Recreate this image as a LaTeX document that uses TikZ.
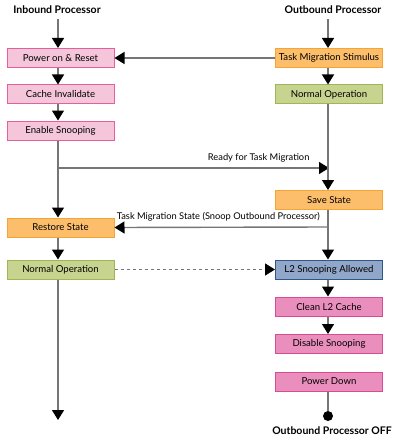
\documentclass[tikz,border=0pt]{standalone}
\usepackage{fontspec}
\setmainfont{Lato}
\usetikzlibrary{arrows.meta}

\definecolor{pinklt}{HTML}{F5C6DA}
\definecolor{pinkln}{HTML}{E3609D}
\definecolor{pinkdk}{HTML}{EA8FBD}
\definecolor{pinkdkln}{HTML}{D84C92}
\definecolor{orangefill}{HTML}{FDBE6C}
\definecolor{orangeln}{HTML}{F6A533}
\definecolor{greenfill}{HTML}{C7D48F}
\definecolor{greenln}{HTML}{9DB852}
\definecolor{bluefill}{HTML}{91A7C9}
\definecolor{blueln}{HTML}{2F5689}
\definecolor{linegray}{HTML}{767676}

\begin{document}
\begin{tikzpicture}[
    x=1pt, y=-1pt,
    box/.style={rectangle, draw, line width=1pt, minimum width=107pt, minimum height=19pt, inner sep=0pt, align=center, font=\fontsize{9.6}{11}\selectfont},
    title/.style={font=\bfseries\fontsize{10.5}{12}\selectfont},
    lbl/.style={font=\fontsize{9.3}{11}\selectfont},
    arrow/.style={draw=linegray, line width=1.4pt, -{Triangle[width=12pt,length=10pt,color=black]}},
    line/.style={draw=linegray, line width=1.4pt}
]
    \useasboundingbox (0,0) rectangle (400,441);

    % Titles
    \node[title] (inb) at (57,10) {Inbound Processor};
    \node[title] (outb) at (333,10) {Outbound Processor};

    % Inbound column
    \node[box, fill=pinklt, draw=pinkln] (power) at (60.5,58) {Power on \& Reset};
    \node[box, fill=pinklt, draw=pinkln] (cache) at (60.5,94.5) {Cache Invalidate};
    \node[box, fill=pinklt, draw=pinkln] (snoop) at (60.5,130.5) {Enable Snooping};
    \node[box, fill=orangefill, draw=orangeln] (restore) at (60.5,227.5) {Restore State};
    \node[box, fill=greenfill, draw=greenln] (normin) at (60.5,269.5) {Normal Operation};
    \coordinate (inend) at (58,420);

    % Outbound column
    \node[box, fill=orangefill, draw=orangeln] (stim) at (329,58) {Task Migration Stimulus};
    \node[box, fill=greenfill, draw=greenln] (normout) at (329,94.5) {Normal Operation};
    \node[box, fill=orangefill, draw=orangeln] (save) at (329,200) {Save State};
    \node[box, fill=bluefill, draw=blueln] (l2) at (329,269.5) {L2 Snooping Allowed};
    \node[box, fill=pinkdk, draw=pinkdkln] (clean) at (329,306.5) {Clean L2 Cache};
    \node[box, fill=pinkdk, draw=pinkdkln] (disable) at (329,344) {Disable Snooping};
    \node[box, fill=pinkdk, draw=pinkdkln] (pdown) at (329,381.5) {Power Down};
    \node[circle, fill=black, inner sep=0pt, minimum size=10pt] (off) at (328,416) {};
    \node[title] (offl) at (332,431) {Outbound Processor OFF};

    % Branch points
    \coordinate (ready) at (58,168);
    \coordinate (migr) at (328,227);

    % Arrows
    \draw[arrow] (inb.south -| power.north) ++(-2.5,2) -- ([xshift=-2.5pt]power.north);
    \draw[arrow] ([xshift=-2.5pt]power.south) -- ([xshift=-2.5pt]cache.north);
    \draw[arrow] ([xshift=-2.5pt]cache.south) -- ([xshift=-2.5pt]snoop.north);
    \draw[arrow] ([xshift=-2.5pt]snoop.south) -- ([xshift=-2.5pt]restore.north);
    \draw[arrow] (ready) -- (normout.south |- ready) node[lbl, pos=0.95, above left=2pt] {Ready for Task Migration};
    \draw[arrow] ([xshift=-2.5pt]restore.south) -- ([xshift=-2.5pt]normin.north);
    \draw[arrow] ([xshift=-2.5pt]normin.south) -- (inend);

    \draw[arrow] (outb.south -| stim.north) ++(-1,2) -- ([xshift=-1pt]stim.north);
    \draw[arrow] (stim.west) -- (power.east);
    \draw[arrow] ([xshift=-1pt]stim.south) -- ([xshift=-1pt]normout.north);
    \draw[arrow] ([xshift=-1pt]normout.south) -- ([xshift=-1pt]save.north);
    \draw[arrow] ([xshift=-1pt]save.south) -- ([xshift=-1pt]l2.north);
    \draw[arrow] (migr) -- (restore.east) node[lbl, pos=0.01, above left=2pt] {Task Migration State (Snoop Outbound Processor)};
    \draw[arrow, dashed, dash pattern=on 3pt off 3pt] (normin.east) -- (l2.west);
    \draw[arrow] ([xshift=-1pt]l2.south) -- ([xshift=-1pt]clean.north);
    \draw[arrow] ([xshift=-1pt]clean.south) -- ([xshift=-1pt]disable.north);
    \draw[line] ([xshift=-1pt]pdown.south) -- (off);
\end{tikzpicture}
\end{document}
